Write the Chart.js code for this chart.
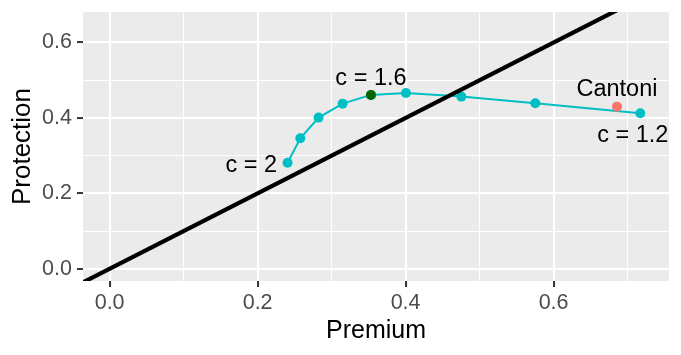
<!DOCTYPE html>
<html><head><meta charset="utf-8">
<script src="https://cdn.jsdelivr.net/npm/chart.js@4/dist/chart.umd.min.js"></script>
<style>html,body{margin:0;padding:0;background:#fff}#wrap{width:681px;height:355px}</style>
</head><body><div id="wrap"><canvas id="c" width="681" height="355"></canvas></div>
<script>
// ---- data ----
const cValues    = [2, 1.9, 1.8, 1.7, 1.6, 1.5, 1.4, 1.3, 1.2];
const premium    = [0.2405, 0.2577, 0.2824, 0.3149, 0.3532, 0.4005, 0.4753, 0.5753, 0.7172];
const protection = [0.2814, 0.3462, 0.4009, 0.4380, 0.4611, 0.4664, 0.4566, 0.4391, 0.4125];
const highlightC = 1.6;
const cantoniPremium    = [0.6857];
const cantoniProtection = [0.4300];
const ablineIntercept = 0;
const ablineSlope = 1;
const xMajorTicks = [0, 0.2, 0.4, 0.6];
const xMinorTicks = [0.1, 0.3, 0.5, 0.7];
const yMajorTicks = [0, 0.2, 0.4, 0.6];
const yMinorTicks = [0.1, 0.3, 0.5];
const xLimits = [-0.036, 0.756];
const yLimits = [-0.0324, 0.681];
const labelTexts   = ["c = 2", "c = 1.6", "c = 1.2", "Cantoni"];
const labelAnchors = ["c2", "c1.6", "c1.2", "cantoni"];

// ---- build ----
const curve = premium.map((x, i) => ({x, y: protection[i]}));
const hiIdx = cValues.indexOf(highlightC);
const highlight = [{x: premium[hiIdx], y: protection[hiIdx]}];
const cantoni = cantoniPremium.map((x, i) => ({x, y: cantoniProtection[i]}));
const ablineX = [xLimits[0] - 0.1, xLimits[1] + 0.1];
const abline = ablineX.map(x => ({x, y: ablineIntercept + ablineSlope * x}));

function anchorPoint(key) {
  if (key === 'cantoni') return cantoni[0];
  const c = parseFloat(key.slice(1));
  const i = cValues.indexOf(c);
  return curve[i];
}
const labelStyle = {
  "c2":      {dx: -10.5, dy: 9,   align: 'right'},
  "c1.6":    {dx: 0,     dy: -10, align: 'center'},
  "c1.2":    {dx: -7.5,  dy: 28.4, align: 'center'},
  "cantoni": {dx: 0,     dy: -10.7, align: 'center'}
};

const FONT = "'Liberation Sans', Arial, sans-serif";

const panelBg = {
  id: 'panelBg',
  beforeDraw(chart) {
    const {ctx, chartArea: a} = chart;
    ctx.save();
    ctx.fillStyle = '#EBEBEB';
    ctx.fillRect(a.left, a.top, a.right - a.left, a.bottom - a.top);
    ctx.restore();
  }
};
const textLabels = {
  id: 'textLabels',
  afterDatasetsDraw(chart) {
    const {ctx, scales: {x, y}} = chart;
    ctx.save();
    ctx.fillStyle = '#000000';
    ctx.font = "23.5px " + FONT;
    ctx.textBaseline = 'alphabetic';
    labelTexts.forEach((t, i) => {
      const p = anchorPoint(labelAnchors[i]);
      const s = labelStyle[labelAnchors[i]];
      ctx.textAlign = s.align;
      ctx.fillText(t, x.getPixelForValue(p.x) + s.dx, y.getPixelForValue(p.y) + s.dy);
    });
    ctx.restore();
  }
};

function tickSetter(major, minor) {
  return function(scale) {
    scale.ticks = major.concat(minor).sort((a, b) => a - b).map(v => ({value: v}));
  };
}
function isMajor(list, v) { return list.some(m => Math.abs(m - v) < 1e-9); }

new Chart(document.getElementById('c'), {
  type: 'scatter',
  data: {
    datasets: [
      {data: abline, showLine: true, borderColor: '#000000', borderWidth: 4.2,
       pointRadius: 0, order: 0, clip: true},
      {data: cantoni, backgroundColor: '#F8766D', borderWidth: 0, pointRadius: 5, order: 1},
      {data: highlight, backgroundColor: '#006400', borderWidth: 0, pointRadius: 5, order: 2},
      {data: curve, showLine: true, borderColor: '#00BFC4', borderWidth: 2,
       backgroundColor: '#00BFC4', pointBorderWidth: 0, pointRadius: 5, order: 3}
    ]
  },
  options: {
    responsive: false,
    devicePixelRatio: 1,
    animation: false,
    layout: {padding: {top: 12, right: 12, left: 0, bottom: 0}},
    plugins: {legend: {display: false}, tooltip: {enabled: false}},
    scales: {
      x: {
        type: 'linear', min: xLimits[0], max: xLimits[1],
        afterBuildTicks: tickSetter(xMajorTicks, xMinorTicks),
        afterFit(scale) { scale.height = 74; scale.paddingLeft = 0; scale.paddingRight = 0; },
        border: {display: false},
        grid: {
          color: '#FFFFFF',
          lineWidth: c => isMajor(xMajorTicks, c.tick.value) ? 2.1 : 1,
          tickColor: c => isMajor(xMajorTicks, c.tick.value) ? '#333333' : 'rgba(0,0,0,0)',
          tickLength: 6, tickWidth: 2
        },
        ticks: {
          autoSkip: false, maxRotation: 0, padding: 3, color: '#4D4D4D',
          font: {family: FONT, size: 21.5},
          callback: v => isMajor(xMajorTicks, v) ? v.toFixed(1) : ''
        },
        title: {display: true, text: 'Premium', color: '#000000',
                font: {family: FONT, size: 25}, padding: {top: 0, bottom: 9}}
      },
      y: {
        type: 'linear', min: yLimits[0], max: yLimits[1],
        afterBuildTicks: tickSetter(yMajorTicks, yMinorTicks),
        afterFit(scale) { scale.width = 83; scale.paddingTop = 0; scale.paddingBottom = 0; },
        border: {display: false},
        grid: {
          color: '#FFFFFF',
          lineWidth: c => isMajor(yMajorTicks, c.tick.value) ? 2.1 : 1,
          tickColor: c => isMajor(yMajorTicks, c.tick.value) ? '#333333' : 'rgba(0,0,0,0)',
          tickLength: 6, tickWidth: 2
        },
        ticks: {
          autoSkip: false, padding: 5, color: '#4D4D4D',
          font: {family: FONT, size: 21.5},
          callback: v => isMajor(yMajorTicks, v) ? v.toFixed(1) : ''
        },
        title: {display: true, text: 'Protection', color: '#000000',
                font: {family: FONT, size: 26}, padding: {top: 7, bottom: 0}}
      }
    }
  },
  plugins: [panelBg, textLabels]
});
</script></body></html>
